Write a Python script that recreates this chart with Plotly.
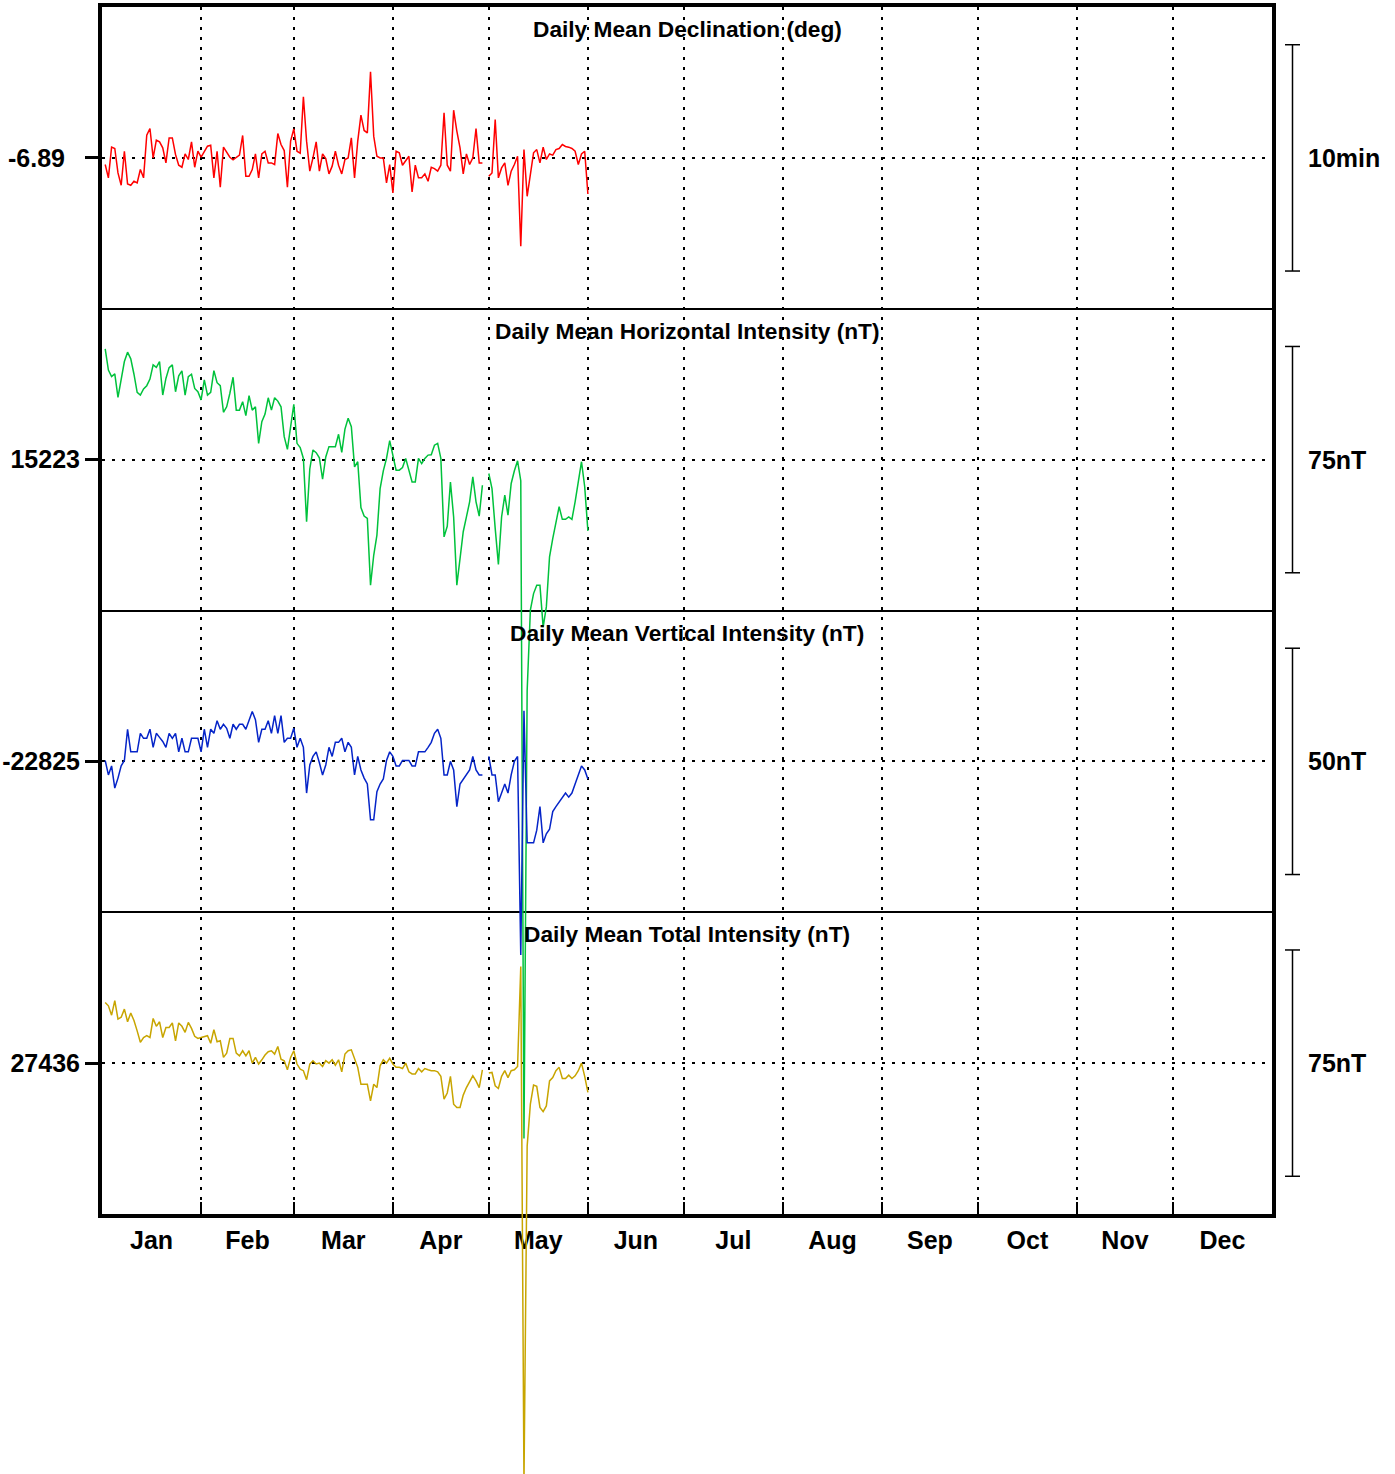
import plotly.graph_objects as go

# ---------------- data (daily means, 2024, day-of-year 1..152) ----------------
MONTHS = ["Jan", "Feb", "Mar", "Apr", "May", "Jun", "Jul", "Aug", "Sep", "Oct", "Nov", "Dec"]
MONTH_DAYS = [31, 29, 31, 30, 31, 30, 31, 31, 30, 31, 30, 31]

decl_deg = [
    -6.8949, -6.9047, -6.8821, -6.8831, -6.9011, -6.9102, -6.8851, -6.9092, -6.9102, -6.9072,
    -6.9084, -6.8986, -6.9047, -6.8733, -6.8684, -6.8900, -6.8770, -6.8782, -6.8826, -6.8937,
    -6.8753, -6.8753, -6.8875, -6.8954, -6.8969, -6.8871, -6.8912, -6.8782, -6.8969, -6.8851,
    -6.8895, -6.8851, -6.8814, -6.8807, -6.9047, -6.8851, -6.9116, -6.8821, -6.8863, -6.8895,
    -6.8915, -6.8900, -6.8880, -6.8735, -6.9035, -6.9035, -6.8986, -6.8871, -6.9047, -6.8871,
    -6.8851, -6.8937, -6.8937, -6.8949, -6.8721, -6.8802, -6.8846, -6.9116, -6.8777, -6.8686,
    -6.8851, -6.8866, -6.8450, -6.8777, -6.8998, -6.8900, -6.8782, -6.8998, -6.8871, -6.8905,
    -6.9018, -6.8961, -6.8851, -6.8954, -6.9018, -6.8912, -6.8900, -6.8753, -6.9047, -6.8777,
    -6.8585, -6.8698, -6.8716, -6.8266, -6.8740, -6.8888, -6.8900, -6.8900, -6.9084, -6.8949,
    -6.9158, -6.8851, -6.8863, -6.8954, -6.8925, -6.8888, -6.9151, -6.8954, -6.9047, -6.9047,
    -6.9018, -6.9072, -6.8969, -6.8979, -6.8998, -6.8954, -6.8568, -6.8954, -6.8998, -6.8549,
    -6.8703, -6.8826, -6.9018, -6.8871, -6.8949, -6.8900, -6.8684, -6.8937, -6.8937, None,
    -6.9035, -6.9011, -6.8617, -6.9047, -6.8974, -6.8937, -6.9102, -6.8998, -6.8949, -6.8888,
    -6.9551, -6.8839, -6.9183, -6.9011, -6.8863, -6.8839, -6.8937, -6.8821, -6.8912, -6.8871,
    -6.8880, -6.8839, -6.8831, -6.8802, -6.8816, -6.8821, -6.8831, -6.8851, -6.8949, -6.8871,
    -6.8851, -6.9166,
]

h_nT = [
    15259.7, 15252.7, 15250.5, 15251.4, 15243.6, 15249.9, 15255.5, 15258.6, 15256.4, 15251.3,
    15245.3, 15244.4, 15246.4, 15247.5, 15249.7, 15254.4, 15253.6, 15255.5, 15244.4, 15249.9,
    15253.5, 15254.4, 15245.5, 15250.8, 15252.4, 15244.4, 15250.5, 15251.3, 15246.6, 15245.5,
    15242.8, 15249.4, 15244.4, 15245.3, 15252.5, 15248.5, 15247.5, 15238.7, 15240.5, 15245.0,
    15250.3, 15239.4, 15239.4, 15242.2, 15237.6, 15244.2, 15239.4, 15240.5, 15228.4, 15235.6,
    15238.1, 15243.5, 15239.4, 15243.5, 15242.4, 15240.5, 15230.6, 15226.4, 15234.2, 15241.3,
    15228.4, 15227.0, 15223.4, 15202.4, 15219.9, 15226.2, 15225.3, 15223.6, 15216.5, 15223.9,
    15227.3, 15227.3, 15227.3, 15231.4, 15225.4, 15233.1, 15236.7, 15233.9, 15220.6, 15222.3,
    15207.1, 15204.3, 15203.5, 15181.4, 15191.3, 15198.0, 15213.4, 15219.3, 15223.4, 15229.3,
    15223.9, 15219.5, 15219.5, 15220.4, 15223.4, 15219.0, 15215.6, 15215.6, 15223.4, 15221.7,
    15223.4, 15224.5, 15224.6, 15227.8, 15228.4, 15223.4, 15197.4, 15200.9, 15215.6, 15204.0,
    15181.4, 15190.2, 15199.1, 15204.0, 15209.0, 15217.3, 15209.0, 15204.3, 15214.5, None,
    15218.4, 15213.4, 15200.2, 15188.3, 15204.0, 15211.2, 15204.6, 15215.1, 15219.3, 15222.6,
    15216.0, 14998.0, 15146.5, 15173.1, 15178.6, 15181.4, 15181.4, 15167.5, 15174.2, 15190.8,
    15196.8, 15202.4, 15207.4, 15203.2, 15203.2, 15204.0, 15203.2, 15209.0, 15215.1, 15222.3,
    15214.0, 15199.4,
]

z_nT = [
    -22824.8, -22828.0, -22826.0, -22830.9, -22828.7, -22826.0, -22824.8, -22817.9, -22822.9, -22822.9,
    -22822.9, -22818.8, -22819.9, -22819.9, -22817.9, -22821.9, -22818.8, -22819.7, -22820.6, -22821.9,
    -22818.8, -22819.9, -22818.8, -22822.9, -22819.9, -22822.9, -22822.9, -22819.9, -22819.9, -22819.9,
    -22822.9, -22817.9, -22821.9, -22817.9, -22818.8, -22816.0, -22817.9, -22816.8, -22817.7, -22819.9,
    -22816.8, -22817.9, -22816.8, -22816.8, -22817.9, -22816.0, -22814.0, -22815.8, -22820.8, -22817.9,
    -22817.9, -22816.0, -22818.8, -22814.9, -22818.8, -22814.9, -22820.8, -22819.9, -22819.9, -22817.7,
    -22821.9, -22819.9, -22821.9, -22832.0, -22825.8, -22823.9, -22822.9, -22825.3, -22828.0, -22825.8,
    -22821.9, -22823.9, -22820.8, -22820.8, -22819.9, -22822.9, -22820.8, -22821.9, -22828.0, -22823.9,
    -22826.9, -22828.7, -22830.0, -22837.9, -22837.9, -22831.7, -22830.0, -22828.9, -22824.8, -22822.9,
    -22823.9, -22826.0, -22826.0, -22824.8, -22824.8, -22824.8, -22826.0, -22826.0, -22822.9, -22822.9,
    -22822.9, -22821.9, -22820.8, -22818.8, -22817.9, -22819.9, -22828.0, -22828.0, -22825.0, -22826.9,
    -22835.0, -22830.0, -22828.9, -22828.0, -22826.9, -22823.9, -22826.9, -22828.0, -22828.0, None,
    -22823.9, -22828.0, -22828.0, -22833.9, -22832.0, -22830.0, -22832.0, -22828.0, -22825.0, -22823.9,
    -22867.8, -22813.8, -22843.0, -22843.0, -22843.0, -22840.2, -22835.0, -22843.0, -22841.0, -22840.0,
    -22836.1, -22835.0, -22833.9, -22832.9, -22832.0, -22832.9, -22832.0, -22830.0, -22828.0, -22826.0,
    -22826.9, -22828.9,
]

f_nT = [
    27456.1, 27455.0, 27451.9, 27456.7, 27450.6, 27451.2, 27453.9, 27449.7, 27452.6, 27450.1,
    27446.7, 27442.9, 27444.5, 27445.1, 27444.5, 27450.8, 27448.2, 27449.7, 27444.5, 27447.8,
    27447.8, 27449.3, 27443.4, 27449.3, 27448.2, 27446.2, 27449.5, 27447.5, 27444.9, 27444.2,
    27444.5, 27444.9, 27445.1, 27442.6, 27447.1, 27443.1, 27443.4, 27437.9, 27439.3, 27444.2,
    27444.2, 27439.3, 27438.4, 27440.1, 27438.4, 27440.1, 27436.0, 27437.9, 27435.7, 27437.1,
    27438.7, 27439.8, 27440.1, 27439.0, 27441.5, 27437.3, 27436.8, 27433.8, 27437.9, 27440.1,
    27435.7, 27434.0, 27433.5, 27430.5, 27435.7, 27436.8, 27435.7, 27436.0, 27434.9, 27436.8,
    27436.0, 27437.1, 27435.3, 27437.1, 27433.1, 27439.0, 27440.1, 27440.4, 27437.3, 27434.6,
    27429.0, 27429.0, 27429.0, 27423.5, 27429.0, 27427.9, 27435.1, 27437.1, 27436.0, 27437.6,
    27435.7, 27434.6, 27434.6, 27434.2, 27436.0, 27433.1, 27432.4, 27432.4, 27434.2, 27433.1,
    27434.2, 27433.8, 27433.5, 27433.5, 27433.1, 27431.6, 27424.1, 27426.1, 27431.6, 27422.4,
    27421.3, 27421.3, 27425.4, 27427.9, 27430.1, 27431.8, 27430.1, 27427.9, 27433.8, None,
    27432.7, 27432.9, 27428.5, 27427.6, 27431.6, 27433.5, 27431.2, 27433.5, 27433.8, 27434.9,
    27468.0, 27297.0, 27408.5, 27422.4, 27428.7, 27428.3, 27421.3, 27419.9, 27421.8, 27430.1,
    27431.2, 27433.5, 27434.6, 27430.9, 27430.9, 27432.0, 27430.9, 27431.8, 27433.5, 27436.0,
    27431.6, 27426.3,
]

days = list(range(1, len(decl_deg) + 1))

PANEL_TITLES = ["Daily Mean Declination (deg)", "Daily Mean Horizontal Intensity (nT)",
                "Daily Mean Vertical Intensity (nT)", "Daily Mean Total Intensity (nT)"]
BASELINES = [-6.89, 15223, -22825, 27436]
BASELINE_LABELS = ["-6.89", "15223", "-22825", "27436"]
SCALE_SIZES = [10 / 60, 75, 50, 75]          # deg, nT, nT, nT
SCALE_LABELS = ["10min", "75nT", "50nT", "75nT"]
SERIES = [decl_deg, h_nT, z_nT, f_nT]
COLORS = ["#FF0000", "#00C23C", "#0524C8", "#C8A500"]

# ---------------- layout geometry ----------------
W, HGT = 1395, 1474
FRAME_L, FRAME_R, FRAME_T, FRAME_B = 102, 1272, 7, 1214
fx = lambda px: px / W
fy = lambda py: 1 - py / HGT
panel_px = (FRAME_B - FRAME_T) / 4
u_bot = -(HGT - FRAME_B) / panel_px          # figure bottom in panel units
BAR_FRACTION = 0.75                          # scale bar = 3/4 of panel height

FONT = "Liberation Sans, Arial, sans-serif"
GRID_DASH = "3px,7px"

ends = []
acc = 0
for d in MONTH_DAYS:
    acc += d
    ends.append(acc)
boundaries = ends[:-1]
mids = [e - d / 2 for e, d in zip(ends, MONTH_DAYS)]
year_len = ends[-1]

fig = go.Figure()
yaxes_names = ["y2", "y3", "y4", "y5"]
for i, (vals, col) in enumerate(zip(SERIES, COLORS)):
    fig.add_trace(go.Scatter(x=days, y=vals, mode="lines", xaxis="x2", yaxis=yaxes_names[i],
                             line=dict(color=col, width=1.5), showlegend=False,
                             hoverinfo="skip"))

layout = dict(
    width=W, height=HGT,
    margin=dict(l=0, r=0, t=0, b=0),
    paper_bgcolor="white", plot_bgcolor="rgba(0,0,0,0)",
    showlegend=False,
    font=dict(family=FONT, color="black"),
    xaxis=dict(
        domain=[fx(FRAME_L), fx(FRAME_R)], range=[0, year_len], anchor="y",
        showline=True, mirror=True, linewidth=4, linecolor="black",
        tickmode="array", tickvals=mids, ticktext=MONTHS, ticks="",
        showgrid=False, zeroline=False,
        tickfont=dict(family=FONT, size=25, weight="bold", color="black"),
        ticklabelstandoff=1,
        minor=dict(tickmode="array", tickvals=boundaries, ticks="inside", ticklen=12,
                   tickwidth=2, tickcolor="black", showgrid=True, gridcolor="black",
                   gridwidth=2, griddash=GRID_DASH),
    ),
    yaxis=dict(
        domain=[fy(FRAME_B), fy(FRAME_T)], range=[0, 4], anchor="x",
        showline=True, mirror=True, linewidth=4, linecolor="black",
        tickmode="array", tickvals=[1, 2, 3], showticklabels=False, ticks="",
        showgrid=True, gridcolor="black", gridwidth=2, zeroline=False,
    ),
    xaxis2=dict(domain=[fx(FRAME_L), fx(FRAME_R)], range=[0, year_len], anchor="y2",
                visible=False),
)

shapes = []
annotations = []
for i in range(4):
    B = BASELINES[i]
    span = SCALE_SIZES[i] / BAR_FRACTION
    c = 3.5 - i
    rng = [B + (u_bot - c) * span, B + (4 - c) * span]
    ax = dict(
        domain=[0, fy(FRAME_T)], range=rng, anchor="x2", side="left",
        tickmode="array", tickvals=[B], ticktext=[BASELINE_LABELS[i]],
        ticks="outside", ticklen=16, tickwidth=2.5, tickcolor="black",
        showgrid=True, gridcolor="black", gridwidth=2, griddash=GRID_DASH,
        zeroline=False, showline=False,
        tickfont=dict(family=FONT, size=25, weight="bold", color="black"),
        ticklabelstandoff=(15 if i == 0 else 0),
    )
    if i > 0:
        ax["overlaying"] = "y2"
    layout["yaxis%d" % (i + 2)] = ax

    yref = yaxes_names[i]
    lo, hi = B - SCALE_SIZES[i] / 2, B + SCALE_SIZES[i] / 2
    shapes.append(dict(type="line", xref="paper", yref=yref, x0=fx(1292.5), x1=fx(1292.5),
                       y0=lo, y1=hi, line=dict(color="black", width=1.5)))
    for yv in (lo, hi):
        shapes.append(dict(type="line", xref="paper", yref=yref, x0=fx(1285), x1=fx(1300),
                           y0=yv, y1=yv, line=dict(color="black", width=1.5)))
    annotations.append(dict(text=SCALE_LABELS[i], xref="paper", yref=yref, x=fx(1306), y=B,
                            xanchor="left", yanchor="middle", showarrow=False,
                            font=dict(family=FONT, size=25, weight="bold", color="black")))
    annotations.append(dict(text=PANEL_TITLES[i], xref="paper", yref="y",
                            x=(fx(FRAME_L) + fx(FRAME_R)) / 2, y=4 - i, yshift=-22,
                            xanchor="center", yanchor="middle", showarrow=False,
                            font=dict(family=FONT, size=22.7, weight="bold", color="black")))

layout["shapes"] = shapes
layout["annotations"] = annotations
fig.update_layout(**layout)
fig.write_html("out.html", config={"displayModeBar": False},
               post_script="document.body.style.margin='0';")
